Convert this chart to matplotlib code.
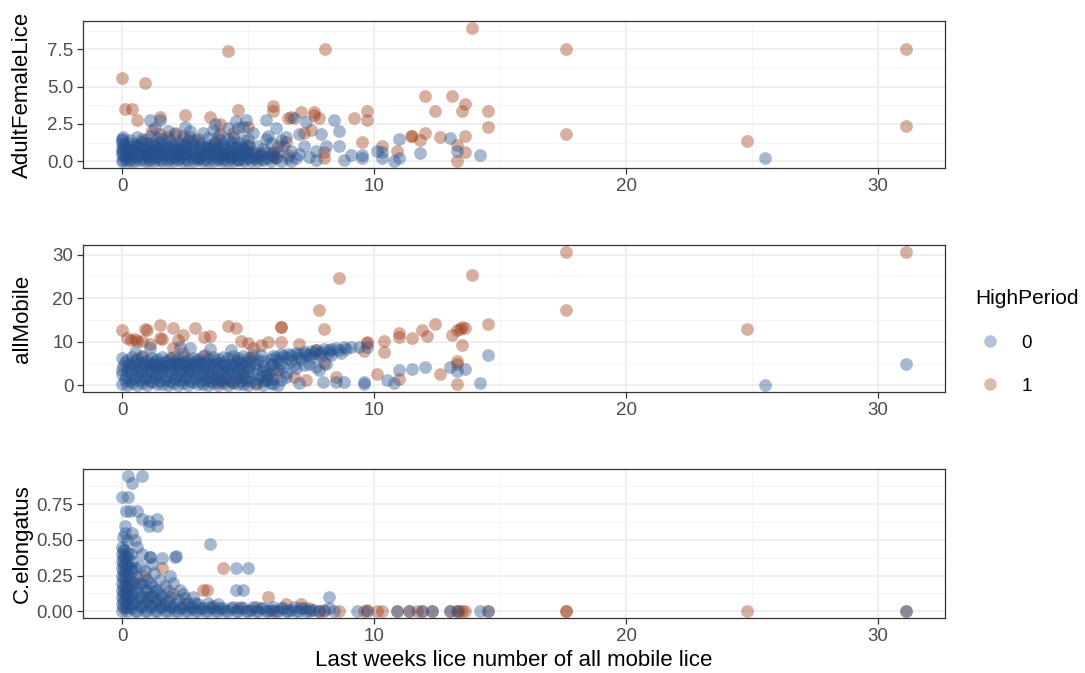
import numpy as np
import matplotlib
matplotlib.use("Agg")
import matplotlib.pyplot as plt
from matplotlib.lines import Line2D
from matplotlib.ticker import MultipleLocator, FormatStrFormatter

plt.rcParams["font.family"] = ["Liberation Sans", "DejaVu Sans"]

# (last week's mobile lice, value) pairs per panel and HighPeriod group
afl_blue = [
    (0.0, 0.0), (0.05, 0.1), (0.2, 0.0), (0.35, 0.05), (0.5, 0.0), (0.7, 0.1), (0.9, 0.0), (1.05, 0.05),
    (1.25, 0.0), (1.45, 0.1), (1.6, 0.0), (1.8, 0.05), (2.0, 0.0), (2.2, 0.1), (2.4, 0.0), (2.6, 0.05),
    (2.8, 0.0), (3.0, 0.1), (3.2, 0.0), (3.4, 0.05), (3.6, 0.0), (3.8, 0.1), (4.0, 0.0), (4.2, 0.05),
    (4.4, 0.0), (4.6, 0.1), (4.85, 0.0), (5.1, 0.05), (5.35, 0.0), (5.6, 0.1), (5.9, 0.0), (6.3, 0.05),
    (6.7, 0.0),
    (0.1, 0.2), (0.3, 0.15), (0.55, 0.25), (0.8, 0.2), (1.05, 0.15), (1.3, 0.25), (1.55, 0.2), (1.8, 0.15),
    (2.05, 0.25), (2.3, 0.2), (2.55, 0.15), (2.8, 0.25), (3.05, 0.2), (3.3, 0.15), (3.55, 0.25), (3.8, 0.2),
    (4.05, 0.15), (4.3, 0.25), (4.55, 0.2), (4.8, 0.15), (5.05, 0.25), (5.3, 0.2), (5.55, 0.15), (5.8, 0.25),
    (6.1, 0.2),
    (0.0, 0.4), (0.1, 0.35), (0.3, 0.45), (0.45, 0.35), (0.65, 0.4), (0.85, 0.5), (1.0, 0.35), (1.2, 0.45),
    (1.4, 0.35), (1.55, 0.5), (1.75, 0.4), (1.95, 0.3), (2.15, 0.45), (2.35, 0.35), (2.55, 0.5), (2.75, 0.4),
    (2.95, 0.3), (3.15, 0.45), (3.35, 0.35), (3.55, 0.5), (3.75, 0.4), (3.95, 0.3), (4.15, 0.45), (4.35, 0.35),
    (4.55, 0.5), (4.75, 0.4), (4.95, 0.3), (5.2, 0.45), (5.45, 0.35),
    (0.0, 0.6), (0.2, 0.55), (0.45, 0.65), (0.7, 0.6), (0.95, 0.55), (1.2, 0.65), (1.45, 0.6), (1.7, 0.55),
    (1.95, 0.65), (2.2, 0.6), (2.45, 0.55), (2.7, 0.65), (2.95, 0.6), (3.2, 0.55), (3.45, 0.65), (3.7, 0.6),
    (3.95, 0.55), (4.2, 0.65), (4.45, 0.6), (4.7, 0.55), (4.95, 0.65), (5.2, 0.6), (5.45, 0.55), (5.7, 0.65),
    (6.0, 0.6),
    (0.0, 0.8), (0.05, 0.7), (0.2, 0.85), (0.4, 0.75), (0.6, 0.9), (0.8, 0.8), (1.0, 0.7), (1.15, 0.85),
    (1.35, 0.75), (1.5, 0.9), (1.7, 0.8), (1.9, 0.7), (2.1, 0.85), (2.3, 0.75), (2.5, 0.9), (2.7, 0.8),
    (2.9, 0.7), (3.1, 0.85), (3.3, 0.75), (3.5, 0.9), (3.7, 0.8), (3.9, 0.7), (4.1, 0.85), (4.3, 0.75),
    (4.5, 0.9), (4.75, 0.8), (5.0, 0.7),
    (0.05, 1.0), (0.3, 0.95), (0.55, 1.05), (0.8, 1.0), (1.05, 0.95), (1.3, 1.05), (1.55, 1.0), (1.8, 0.95),
    (2.05, 1.05), (2.3, 1.0), (2.55, 0.95), (2.8, 1.05), (3.05, 1.0), (3.3, 0.95), (3.55, 1.05), (3.8, 1.0),
    (4.05, 0.95), (4.3, 1.05), (4.55, 1.0), (4.8, 0.95), (5.05, 1.05), (5.35, 1.0),
    (0.0, 1.2), (0.1, 1.1), (0.25, 1.25), (0.5, 1.15), (0.75, 1.3), (1.0, 1.2), (1.25, 1.1), (1.5, 1.3),
    (1.75, 1.2), (2.0, 1.1), (2.25, 1.25), (2.5, 1.15), (2.8, 1.3), (3.1, 1.2), (3.4, 1.1), (3.7, 1.25),
    (4.0, 1.15), (4.3, 1.3), (4.65, 1.2),
    (0.0, 1.5), (0.3, 1.45), (0.9, 1.4), (1.4, 1.55), (1.9, 1.45), (2.4, 1.5), (2.9, 1.4), (3.4, 1.55),
    (3.9, 1.45), (4.2, 1.5), (4.8, 1.4), (0.0, 1.4), (0.05, 1.6),
    (0.6, 1.6), (1.1, 1.7), (1.6, 1.5), (2.1, 1.8), (2.7, 1.6), (3.2, 1.9), (3.8, 1.7), (4.4, 1.6),
    (5.0, 1.5), (1.3, 2.2), (2.5, 2.3), (3.6, 2.1), (4.6, 2.2), (5.2, 1.9),
    (5.6, 0.8), (5.9, 1.2), (6.2, 0.6), (6.4, 1.0), (6.7, 0.7), (6.0, 0.3), (6.6, 0.2), (7.0, 0.5),
    (7.4, 0.3), (6.3, 1.4), (5.7, 1.5),
    (1.1, 2.8), (1.5, 2.8), (1.8, 2.0), (2.7, 2.0), (3.7, 2.5), (4.2, 2.2), (4.5, 2.7), (4.8, 2.3),
    (4.9, 2.8), (5.7, 2.8), (6.1, 2.2), (6.8, 2.9), (7.3, 2.6), (8.4, 2.75), (8.6, 2.0), (7.9, 1.8),
    (7.0, 1.8), (6.5, 1.6), (5.8, 1.7), (8.1, 1.0), (8.6, 1.0), (7.2, 1.0), (7.7, 0.7), (6.9, 0.25),
    (7.7, 0.1), (9.1, 0.45), (8.8, 0.1), (9.5, 0.45), (9.5, 0.2), (10.1, 0.7), (10.3, 0.6), (11.0, 1.5),
    (10.8, 0.0), (11.0, 0.25), (11.8, 0.55), (13.0, 1.55), (13.3, 0.7), (14.2, 0.45), (10.3, 0.25),
    (25.5, 0.25),
]
afl_red = [
    (1.5, 1.8), (1.8, 1.6), (2.1, 1.9), (2.4, 1.7), (0.8, 1.5), (1.2, 1.2), (2.6, 1.4), (3.0, 1.5),
    (3.4, 0.9), (4.0, 0.5), (4.3, 0.3), (4.6, 0.1), (4.9, 0.6), (5.2, 0.2), (5.5, 0.4), (5.9, 0.5),
    (6.0, 0.4), (6.1, 0.3), (3.7, 1.3), (2.2, 0.5), (0.6, 1.0), (1.0, 0.3), (0.3, 0.6), (4.4, 1.9),
    (5.0, 1.1), (3.0, 0.2), (6.5, 1.3), (7.2, 1.9), (6.2, 1.0), (3.9, 1.8),
    (0.0, 5.6), (0.9, 5.25), (4.2, 7.4), (8.05, 7.5), (13.9, 8.95), (0.1, 3.5), (0.4, 3.5), (0.6, 2.8),
    (1.5, 3.0), (2.5, 3.1), (3.5, 3.0), (3.9, 2.5), (4.6, 3.45), (6.0, 3.7), (6.0, 3.4), (6.6, 2.9),
    (6.7, 3.0), (7.1, 3.3), (7.6, 3.3), (7.6, 3.1), (7.8, 2.9), (9.2, 2.9), (9.7, 3.35), (9.7, 2.8),
    (12.0, 4.4), (13.1, 4.4), (12.4, 3.35), (13.6, 3.85), (13.5, 3.4), (14.5, 3.4), (14.5, 2.3),
    (11.5, 1.7), (11.45, 1.7), (12.0, 1.9), (11.8, 1.4), (12.6, 1.6), (13.6, 1.7), (13.3, 1.1),
    (13.6, 0.6), (13.3, 0.0), (10.3, 1.0), (10.9, 0.7), (9.5, 1.3), (8.0, 0.2), (8.0, 0.6), (6.6, 0.4),
    (7.5, 2.1), (5.0, 2.3), (1.2, 2.1), (17.6, 7.5), (17.6, 1.8), (24.8, 1.35), (31.1, 7.5), (31.1, 2.35),
]

mob_blue = [
    (0.0, 0.3), (0.2, 0.0), (0.4, 0.6), (0.6, 0.1), (0.8, 0.5), (1.0, 0.0), (1.2, 0.7), (1.4, 0.2),
    (1.6, 0.4), (1.8, 0.0), (2.0, 0.6), (2.2, 0.1), (2.4, 0.5), (2.6, 0.0), (2.8, 0.7), (3.0, 0.2),
    (3.2, 0.4), (3.4, 0.0), (3.6, 0.6), (3.8, 0.1), (4.0, 0.5), (4.2, 0.0), (4.4, 0.7), (4.6, 0.2),
    (4.8, 0.4), (5.0, 0.0), (5.3, 0.6), (5.6, 0.1), (5.9, 0.5), (6.2, 0.0),
    (0.1, 1.3), (0.3, 1.0), (0.5, 1.5), (0.7, 1.2), (0.9, 1.4), (1.1, 1.0), (1.3, 1.6), (1.5, 1.1),
    (1.7, 1.3), (1.9, 1.0), (2.1, 1.5), (2.3, 1.2), (2.5, 1.4), (2.7, 1.0), (2.9, 1.6), (3.1, 1.1),
    (3.3, 1.3), (3.5, 1.0), (3.7, 1.5), (3.9, 1.2), (4.1, 1.4), (4.3, 1.0), (4.5, 1.6), (4.7, 1.1),
    (4.9, 1.3), (5.1, 1.0), (5.4, 1.5), (5.7, 1.2), (6.0, 1.4),
    (0.0, 2.5), (0.15, 2.0), (0.35, 2.8), (0.55, 2.2), (0.75, 2.6), (0.95, 2.0), (1.15, 2.9), (1.35, 2.3),
    (1.55, 2.5), (1.75, 2.0), (1.95, 2.8), (2.15, 2.2), (2.35, 2.6), (2.55, 2.0), (2.75, 2.9), (2.95, 2.3),
    (3.15, 2.5), (3.35, 2.0), (3.55, 2.8), (3.75, 2.2), (3.95, 2.6), (4.15, 2.0), (4.35, 2.9), (4.55, 2.3),
    (4.75, 2.5), (4.95, 2.0), (5.2, 2.8), (5.5, 2.2), (5.8, 2.6),
    (0.0, 3.5), (0.2, 3.2), (0.4, 3.7), (0.6, 3.4), (0.8, 3.6), (1.0, 3.2), (1.2, 3.8), (1.4, 3.3),
    (1.6, 3.5), (1.8, 3.2), (2.0, 3.7), (2.2, 3.4), (2.4, 3.6), (2.6, 3.2), (2.8, 3.8), (3.0, 3.3),
    (3.2, 3.5), (3.4, 3.2), (3.6, 3.7), (3.8, 3.4), (4.0, 3.6), (4.2, 3.2), (4.4, 3.8), (4.6, 3.3),
    (4.8, 3.5), (5.0, 3.2), (5.3, 3.7), (5.6, 3.4),
    (0.05, 4.5), (0.25, 4.1), (0.45, 4.8), (0.65, 4.3), (0.85, 4.6), (1.05, 4.0), (1.25, 4.9), (1.45, 4.2),
    (1.65, 4.5), (1.85, 4.1), (2.05, 4.8), (2.25, 4.3), (2.45, 4.6), (2.65, 4.0), (2.85, 4.9), (3.05, 4.2),
    (3.25, 4.5), (3.45, 4.1), (3.65, 4.8), (3.85, 4.3), (4.05, 4.6), (4.25, 4.0), (4.45, 4.9), (4.65, 4.2),
    (4.85, 4.5), (5.05, 4.1), (5.3, 4.8), (5.6, 4.4), (5.9, 5.0),
    (0.1, 5.3), (0.3, 5.0), (0.5, 5.5), (0.7, 5.2), (0.9, 5.4), (1.1, 5.0), (1.3, 5.6), (1.5, 5.1),
    (1.7, 5.3), (1.9, 5.0), (2.1, 5.5), (2.3, 5.2), (2.5, 5.4), (2.7, 5.0), (2.9, 5.6), (3.1, 5.1),
    (3.3, 5.3), (3.5, 5.0), (3.7, 5.5), (3.9, 5.2), (4.1, 5.4), (4.3, 5.0), (4.5, 5.6), (4.7, 5.1),
    (4.9, 5.3), (5.1, 5.5), (5.4, 5.8),
    (0.0, 6.2), (0.2, 5.8), (0.4, 6.4), (0.6, 6.0), (0.8, 6.5), (1.0, 5.9), (1.2, 6.3), (1.4, 6.0),
    (1.6, 6.6), (1.8, 5.9), (2.0, 6.4), (2.2, 6.1), (2.4, 6.6), (2.6, 5.9), (2.8, 6.3), (3.0, 6.0),
    (3.2, 6.7), (3.4, 6.1), (3.6, 6.4), (3.8, 6.0), (4.0, 6.6), (4.2, 6.2), (4.4, 6.8), (4.6, 6.3),
    (4.8, 6.7), (5.0, 6.2), (5.2, 6.9),
    (5.6, 5.5), (5.9, 6.1), (6.1, 6.5), (6.4, 6.7), (6.7, 6.9), (7.0, 7.1), (7.3, 7.3), (7.6, 7.5),
    (7.9, 7.7), (8.2, 8.0), (8.6, 8.1), (8.9, 8.4), (6.0, 4.8), (6.3, 5.2), (6.7, 5.6), (7.1, 6.0),
    (7.5, 6.4), (7.9, 6.7), (8.3, 7.0), (8.7, 7.4), (5.7, 3.2), (6.2, 3.8), (6.9, 4.0), (7.4, 5.0),
    (5.6, 0.9), (6.0, 0.3), (6.5, 1.8),
    (5.5, 6.9), (6.0, 6.8), (6.3, 7.1), (6.6, 7.3), (6.9, 7.5), (7.2, 7.7), (7.5, 7.9), (7.7, 8.1),
    (8.0, 8.3), (8.3, 8.4), (8.5, 8.5), (8.8, 8.7), (9.1, 8.8), (9.4, 8.9), (9.7, 8.8), (6.2, 5.8),
    (6.6, 6.2), (7.0, 6.5), (7.4, 6.9), (7.8, 7.2), (8.2, 7.5), (6.4, 4.3), (6.8, 4.6), (7.2, 4.6),
    (7.7, 4.1), (8.1, 4.9), (7.8, 3.6), (6.0, 3.5), (6.5, 2.8), (5.8, 1.5), (6.3, 1.2), (7.0, 0.6),
    (7.95, 0.8), (8.5, 0.8), (8.8, 0.7), (9.6, 0.8), (9.6, 0.4), (10.5, 1.2), (10.8, 0.5), (11.0, 3.5),
    (11.5, 3.8), (12.0, 4.3), (13.0, 4.3), (13.3, 3.4), (13.6, 3.8), (14.2, 0.6), (14.5, 6.9),
    (1.1, 8.6), (2.3, 8.8), (2.7, 8.6), (3.5, 8.4), (0.5, 7.6), (4.3, 8.0),
    (25.5, 0.1), (31.1, 4.9),
]
mob_red = [
    (1.2, 5.0), (1.6, 4.3), (2.2, 4.8), (2.6, 3.9), (3.0, 5.4), (1.9, 6.2), (0.8, 6.8), (3.5, 2.0),
    (4.0, 1.3), (4.4, 0.6), (4.8, 1.6), (5.3, 0.4), (3.8, 0.8), (5.7, 2.3), (6.1, 3.0), (4.6, 5.5),
    (5.1, 6.3), (2.4, 7.5), (3.3, 7.0), (6.8, 1.8), (7.3, 1.2),
    (8.6, 24.7), (13.9, 25.3), (7.8, 17.4), (8.0, 13.0), (0.0, 12.7), (0.9, 13.0), (1.0, 12.7),
    (1.5, 13.8), (2.0, 13.2), (2.4, 11.5), (2.9, 13.2), (3.25, 11.0), (3.5, 11.4), (4.2, 13.7),
    (4.5, 13.2), (4.7, 10.1), (5.0, 9.8), (5.2, 8.5), (5.5, 9.2), (5.8, 9.9), (6.3, 13.3), (6.3, 13.4),
    (6.3, 10.0), (7.0, 9.4), (7.7, 8.0), (8.0, 5.2), (8.5, 1.9), (9.7, 9.8), (9.7, 10.0), (9.6, 7.8),
    (10.4, 10.2), (10.4, 7.6), (10.1, 2.5), (11.0, 1.5), (11.0, 12.0), (11.0, 11.0), (11.5, 10.9),
    (11.9, 12.8), (12.1, 11.4), (12.4, 14.0), (13.1, 11.6), (13.3, 12.8), (13.5, 13.3), (13.4, 13.0),
    (13.6, 13.2), (13.5, 9.3), (13.3, 5.6), (13.3, 5.0), (12.6, 2.6), (13.3, 0.3), (14.5, 14.1),
    (0.35, 10.4), (0.6, 10.1), (1.5, 10.9), (1.6, 10.6), (1.1, 9.5), (2.0, 8.5), (0.2, 10.8),
    (0.5, 10.6), (0.8, 10.2), (2.2, 10.4),
    (17.6, 30.7), (17.6, 17.3), (24.8, 13.0), (31.1, 30.7),
]

cel_blue = [
    (0.0, 0.0), (0.0, 0.05), (0.0, 0.1), (0.0, 0.15), (0.0, 0.2), (0.0, 0.25), (0.0, 0.3), (0.0, 0.35),
    (0.0, 0.4), (0.0, 0.45), (0.1, 0.02), (0.1, 0.08), (0.1, 0.13), (0.1, 0.18), (0.1, 0.23), (0.1, 0.28),
    (0.1, 0.33), (0.1, 0.38), (0.1, 0.43), (0.25, 0.03), (0.25, 0.1), (0.25, 0.17), (0.25, 0.24),
    (0.25, 0.31), (0.25, 0.38), (0.4, 0.05), (0.4, 0.12), (0.4, 0.2), (0.4, 0.28), (0.4, 0.35),
    (0.05, 0.03), (0.05, 0.08), (0.05, 0.13), (0.05, 0.18), (0.05, 0.23), (0.05, 0.28), (0.05, 0.33),
    (0.05, 0.38), (0.05, 0.43), (0.2, 0.0), (0.2, 0.06), (0.2, 0.12), (0.2, 0.19), (0.2, 0.26),
    (0.2, 0.33), (0.2, 0.41), (0.35, 0.02), (0.35, 0.09), (0.35, 0.16), (0.35, 0.23), (0.35, 0.3),
    (0.35, 0.4), (0.5, 0.0), (0.5, 0.06), (0.5, 0.13), (0.5, 0.3), (0.7, 0.04), (0.7, 0.1), (0.7, 0.2),
    (0.7, 0.32), (0.9, 0.0), (0.9, 0.06), (0.9, 0.15), (0.9, 0.28), (1.1, 0.03), (1.1, 0.1), (1.1, 0.2),
    (1.3, 0.0), (1.3, 0.06), (1.3, 0.14), (1.5, 0.03), (1.5, 0.12), (1.5, 0.22), (1.7, 0.0), (1.7, 0.05),
    (1.7, 0.18), (1.9, 0.03), (1.9, 0.1), (2.1, 0.0), (2.1, 0.05), (2.3, 0.02), (2.3, 0.15), (2.5, 0.0),
    (2.5, 0.09), (2.7, 0.03), (2.9, 0.0), (2.9, 0.06), (3.1, 0.02), (3.3, 0.0), (3.5, 0.03), (3.7, 0.0),
    (3.9, 0.02), (4.1, 0.0), (4.3, 0.02), (4.5, 0.0), (4.7, 0.03), (4.9, 0.0), (5.1, 0.01), (5.3, 0.0),
    (5.5, 0.02), (5.7, 0.0), (5.9, 0.01), (6.1, 0.0), (6.3, 0.02), (6.5, 0.0), (6.7, 0.01), (6.9, 0.0),
    (7.1, 0.02), (7.3, 0.0), (7.5, 0.01), (7.8, 0.0), (8.0, 0.01), (8.4, 0.0),
    (0.6, 0.0), (0.6, 0.08), (0.6, 0.16), (0.6, 0.24), (0.8, 0.03), (0.8, 0.11), (0.8, 0.19), (0.8, 0.4),
    (1.0, 0.0), (1.0, 0.07), (1.0, 0.14), (1.0, 0.22), (1.1, 0.38), (1.2, 0.04), (1.2, 0.11), (1.2, 0.18),
    (1.25, 0.27), (1.4, 0.0), (1.4, 0.08), (1.4, 0.15), (1.6, 0.03), (1.6, 0.1), (1.6, 0.37), (1.8, 0.0),
    (1.8, 0.07), (1.8, 0.14), (1.9, 0.25), (2.0, 0.03), (2.0, 0.2), (2.1, 0.38), (2.2, 0.0), (2.2, 0.08),
    (2.4, 0.03), (2.4, 0.12), (2.6, 0.0), (2.6, 0.06), (2.8, 0.02), (2.8, 0.1), (3.0, 0.0), (3.0, 0.05),
    (3.2, 0.02), (3.4, 0.0), (3.4, 0.06), (3.5, 0.47), (3.6, 0.02), (3.8, 0.0), (3.8, 0.05), (4.0, 0.02),
    (4.2, 0.0), (4.4, 0.03), (4.5, 0.15), (4.5, 0.3), (4.6, 0.0), (4.8, 0.15), (4.8, 0.02), (5.0, 0.3),
    (5.0, 0.0), (5.2, 0.03), (5.4, 0.0), (5.6, 0.02), (5.8, 0.0), (6.0, 0.03), (6.2, 0.0), (6.4, 0.02),
    (6.6, 0.0), (6.8, 0.03), (7.0, 0.0), (7.2, 0.02), (7.4, 0.0), (7.6, 0.01), (8.2, 0.1), (8.2, 0.02),
    (9.3, 0.0), (9.7, 0.0), (10.9, 0.0), (11.4, 0.0), (11.9, 0.0), (12.3, 0.0), (13.0, 0.0), (13.3, 0.0),
    (14.2, 0.0), (14.5, 0.0), (31.1, 0.0),
    (0.25, 0.95), (0.8, 0.95), (0.4, 0.9), (0.0, 0.8), (0.25, 0.8), (0.15, 0.7), (0.3, 0.7), (0.6, 0.7),
    (0.8, 0.65), (1.05, 0.6), (1.4, 0.65), (1.4, 0.6), (1.05, 0.63), (0.1, 0.6), (0.1, 0.55), (0.4, 0.55),
    (0.05, 0.52), (0.2, 0.5), (0.6, 0.45), (1.1, 0.38), (2.15, 0.39), (1.2, 0.33), (0.5, 0.5),
]
cel_red = [
    (7.8, 0.0), (8.0, 0.0), (8.6, 0.0), (9.6, 0.0), (9.7, 0.01), (10.1, 0.0), (10.3, 0.0), (10.9, 0.0),
    (11.4, 0.0), (11.7, 0.0), (11.9, 0.0), (12.3, 0.0), (13.0, 0.0), (13.3, 0.0), (13.35, 0.0),
    (13.5, 0.0), (13.6, 0.0), (14.5, 0.0), (17.6, 0.0), (17.6, 0.0), (24.8, 0.0), (31.1, 0.0),
    (3.2, 0.15), (3.35, 0.15), (5.8, 0.1), (6.5, 0.05), (7.1, 0.05), (1.6, 0.3), (0.85, 0.25),
    (1.5, 0.07), (2.5, 0.05), (3.6, 0.04), (4.0, 0.3), (4.6, 0.02), (5.3, 0.03), (6.0, 0.0),
    (7.4, 0.02), (2.0, 0.12), (1.0, 0.1), (0.5, 0.2), (0.2, 0.15),
]

panels = [
    ("AdultFemaleLice", afl_blue, afl_red, 2.5, "%.1f"),
    ("allMobile", mob_blue, mob_red, 10, "%d"),
    ("C.elongatus", cel_blue, cel_red, 0.25, "%.2f"),
]

blue = "#24508E"
red = "#9E3A14"
alpha = 0.4
size = 85

fig = plt.figure(figsize=(10.85, 6.73), dpi=100)
left, width = 83 / 1085, 862 / 1085
boxes = [(21, 168), (245, 392), (469, 618)]

all_x = [p[0] for _, b, r, _, _ in panels for p in b + r]
xpad = 0.05 * (max(all_x) - min(all_x))

for (name, pts0, pts1, step, fmt), (top, bottom) in zip(panels, boxes):
    ax = fig.add_axes([left, 1 - bottom / 673, width, (bottom - top) / 673])
    b = np.array(pts0)
    r = np.array(pts1)
    ax.scatter(r[:, 0], r[:, 1], s=size, color=red, alpha=alpha, linewidths=0, zorder=3)
    ax.scatter(b[:, 0], b[:, 1], s=size, color=blue, alpha=alpha, linewidths=0, zorder=3)

    ax.set_xlim(min(all_x) - xpad, max(all_x) + xpad)
    ax.margins(y=0.05)
    ax.xaxis.set_major_locator(MultipleLocator(10))
    ax.xaxis.set_minor_locator(MultipleLocator(5))
    ax.yaxis.set_major_locator(MultipleLocator(step))
    ax.yaxis.set_minor_locator(MultipleLocator(step / 2))
    ax.yaxis.set_major_formatter(FormatStrFormatter(fmt))

    ax.grid(which="major", color="#EBEBEB", lw=1.1, zorder=0)
    ax.grid(which="minor", color="#F3F3F3", lw=0.6, zorder=0)
    ax.set_axisbelow(True)
    for sp in ax.spines.values():
        sp.set_color("#333333")
        sp.set_linewidth(0.9)
    ax.tick_params(which="major", length=4, width=0.9, color="#333333",
                   labelsize=13.5, labelcolor="#4D4D4D", pad=3)
    ax.tick_params(which="minor", length=0)
    ax.set_ylabel(name, fontsize=16)
    ax.yaxis.set_label_coords(-0.07, 0.5)
    ax.yaxis.label.set_va("center")

ax.set_xlabel("Last weeks lice number of all mobile lice", fontsize=16, labelpad=4)

handles = [
    Line2D([], [], marker="o", ls="", color=blue, alpha=0.35, markersize=9, markeredgewidth=0),
    Line2D([], [], marker="o", ls="", color=red, alpha=0.35, markersize=9, markeredgewidth=0),
]
fig.legend(handles, ["0", "1"], title="HighPeriod", loc="center left",
           bbox_to_anchor=(958 / 1085, 1 - 342 / 673), frameon=False,
           fontsize=13.5, title_fontsize=15, labelspacing=1.4, handlelength=1.6,
           handletextpad=0.9, alignment="left")

fig.savefig("out.png", dpi=100)
